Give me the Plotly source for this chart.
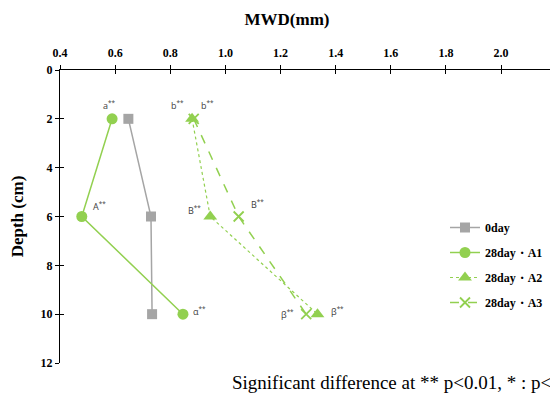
import plotly.graph_objects as go

depth = [2, 6, 10]
mwd_0day = [0.648, 0.730, 0.734]
mwd_a1 = [0.589, 0.479, 0.846]
mwd_a2 = [0.879, 0.945, 1.334]
mwd_a3 = [0.885, 1.048, 1.293]

names = ["0day", "28day・A1", "28day・A2", "28day・A3"]

lab_a1 = ["a", "A", "α"]
lab_a2 = ["b", "B", "β"]
lab_a3 = ["b", "B", "β"]
off_a1 = [(-3, 14), (18, 11), (17, 3)]
off_a2 = [(-15, 14), (-16, 7), (20, 3)]
off_a3 = [(14, 14), (19, 13), (-19, 0)]

GREEN = "#92D050"
GRAY = "#A5A5A5"
SERIF = "Liberation Serif"

fig = go.Figure()
fig.add_trace(go.Scatter(x=mwd_0day, y=depth, name="<b>" + names[0] + "</b>", mode="lines+markers",
                         line=dict(color=GRAY, width=1.5),
                         marker=dict(symbol="square", size=10, color=GRAY), legendgroup="g0"))
fig.add_trace(go.Scatter(x=mwd_a1, y=depth, name="<b>" + names[1] + "</b>", mode="lines+markers",
                         line=dict(color=GREEN, width=1.5),
                         marker=dict(symbol="circle", size=11, color=GREEN), legendgroup="g1"))
fig.add_trace(go.Scatter(x=mwd_a2, y=depth, name="<b>" + names[2] + "</b>", mode="lines+markers",
                         line=dict(color=GREEN, width=1.2, dash="dot"),
                         marker=dict(symbol="triangle-up", size=12, color=GREEN), legendgroup="g2"))
fig.add_trace(go.Scatter(x=mwd_a3, y=depth, name="<b>" + names[3] + "</b>", mode="lines+markers",
                         line=dict(color=GREEN, width=1.5, dash="dash"),
                         marker=dict(symbol="x-thin-open", size=10, color=GREEN,
                                     line=dict(color=GREEN, width=1.8)), legendgroup="g3"))
# helper trace (invisible) that activates the overlay axes used for crossing ticks
fig.add_trace(go.Scatter(x=mwd_0day, y=depth, xaxis="x2", yaxis="y2", mode="markers",
                         marker=dict(opacity=0), showlegend=False, hoverinfo="skip"))

for xs, labs, offs in [(mwd_a1, lab_a1, off_a1), (mwd_a2, lab_a2, off_a2), (mwd_a3, lab_a3, off_a3)]:
    for xv, yv, t, (dx, dy) in zip(xs, depth, labs, offs):
        fig.add_annotation(x=xv, y=yv, xref="x", yref="y", text=t + "<sup>**</sup>",
                           showarrow=False, xshift=dx, yshift=dy,
                           font=dict(family="Open Sans", size=9, color="#404040"))

fig.add_annotation(xref="paper", yref="paper", x=(230 - 60) / 490, y=-(382 - 363) / 293,
                   xanchor="left", yanchor="middle", showarrow=False,
                   text="Significant difference at ** p<0.01, * : p<0.05",
                   font=dict(family=SERIF, size=19, color="#000000"))

tickfont = dict(family=SERIF, size=12, color="#000000", weight="bold")
xr = [0.4, 0.4 + 490 / 275.7]
yr = [12, 0]
fig.update_layout(
    width=550, height=396,
    margin=dict(l=60, r=0, t=70, b=33),
    paper_bgcolor="white", plot_bgcolor="white",
    title=dict(text="<b>MWD(mm)</b>", xref="paper", x=(287 - 60) / 490, xanchor="center",
               yref="container", y=1 - 19 / 396, yanchor="middle",
               font=dict(family=SERIF, size=17, color="black")),
    xaxis=dict(side="top", range=xr, dtick=0.2, tick0=0.4, tickformat=".1f",
               showgrid=False, zeroline=False, showline=True, linecolor="black", linewidth=1.3,
               ticks="outside", ticklen=4, tickcolor="black", tickwidth=1.3, tickfont=tickfont,
               ticklabelstandoff=3),
    xaxis2=dict(overlaying="x", side="top", anchor="y2", range=xr, dtick=0.2, tick0=0.4,
                showgrid=False, zeroline=False, showline=False, showticklabels=False,
                ticks="inside", ticklen=4, tickcolor="black", tickwidth=1.3),
    yaxis=dict(range=yr, dtick=2, showgrid=False, zeroline=False, showline=True,
               linecolor="black", linewidth=1.3, ticks="outside", ticklen=4, tickcolor="black",
               tickwidth=1.3, tickfont=tickfont,
               title=dict(text="<b>Depth (cm)</b>", font=dict(family=SERIF, size=17, color="black"),
                          standoff=12)),
    yaxis2=dict(overlaying="y", side="left", anchor="x2", range=yr, dtick=2,
                showgrid=False, zeroline=False, showline=False, showticklabels=False,
                ticks="inside", ticklen=4, tickcolor="black", tickwidth=1.3),
    legend=dict(x=(445 - 60) / 490, y=(363 - 213) / 293, xanchor="left", yanchor="top",
                font=dict(family=SERIF, size=12, color="black"), tracegroupgap=6,
                bgcolor="rgba(0,0,0,0)"),
    showlegend=True,
)

fig.write_html("out.html")
